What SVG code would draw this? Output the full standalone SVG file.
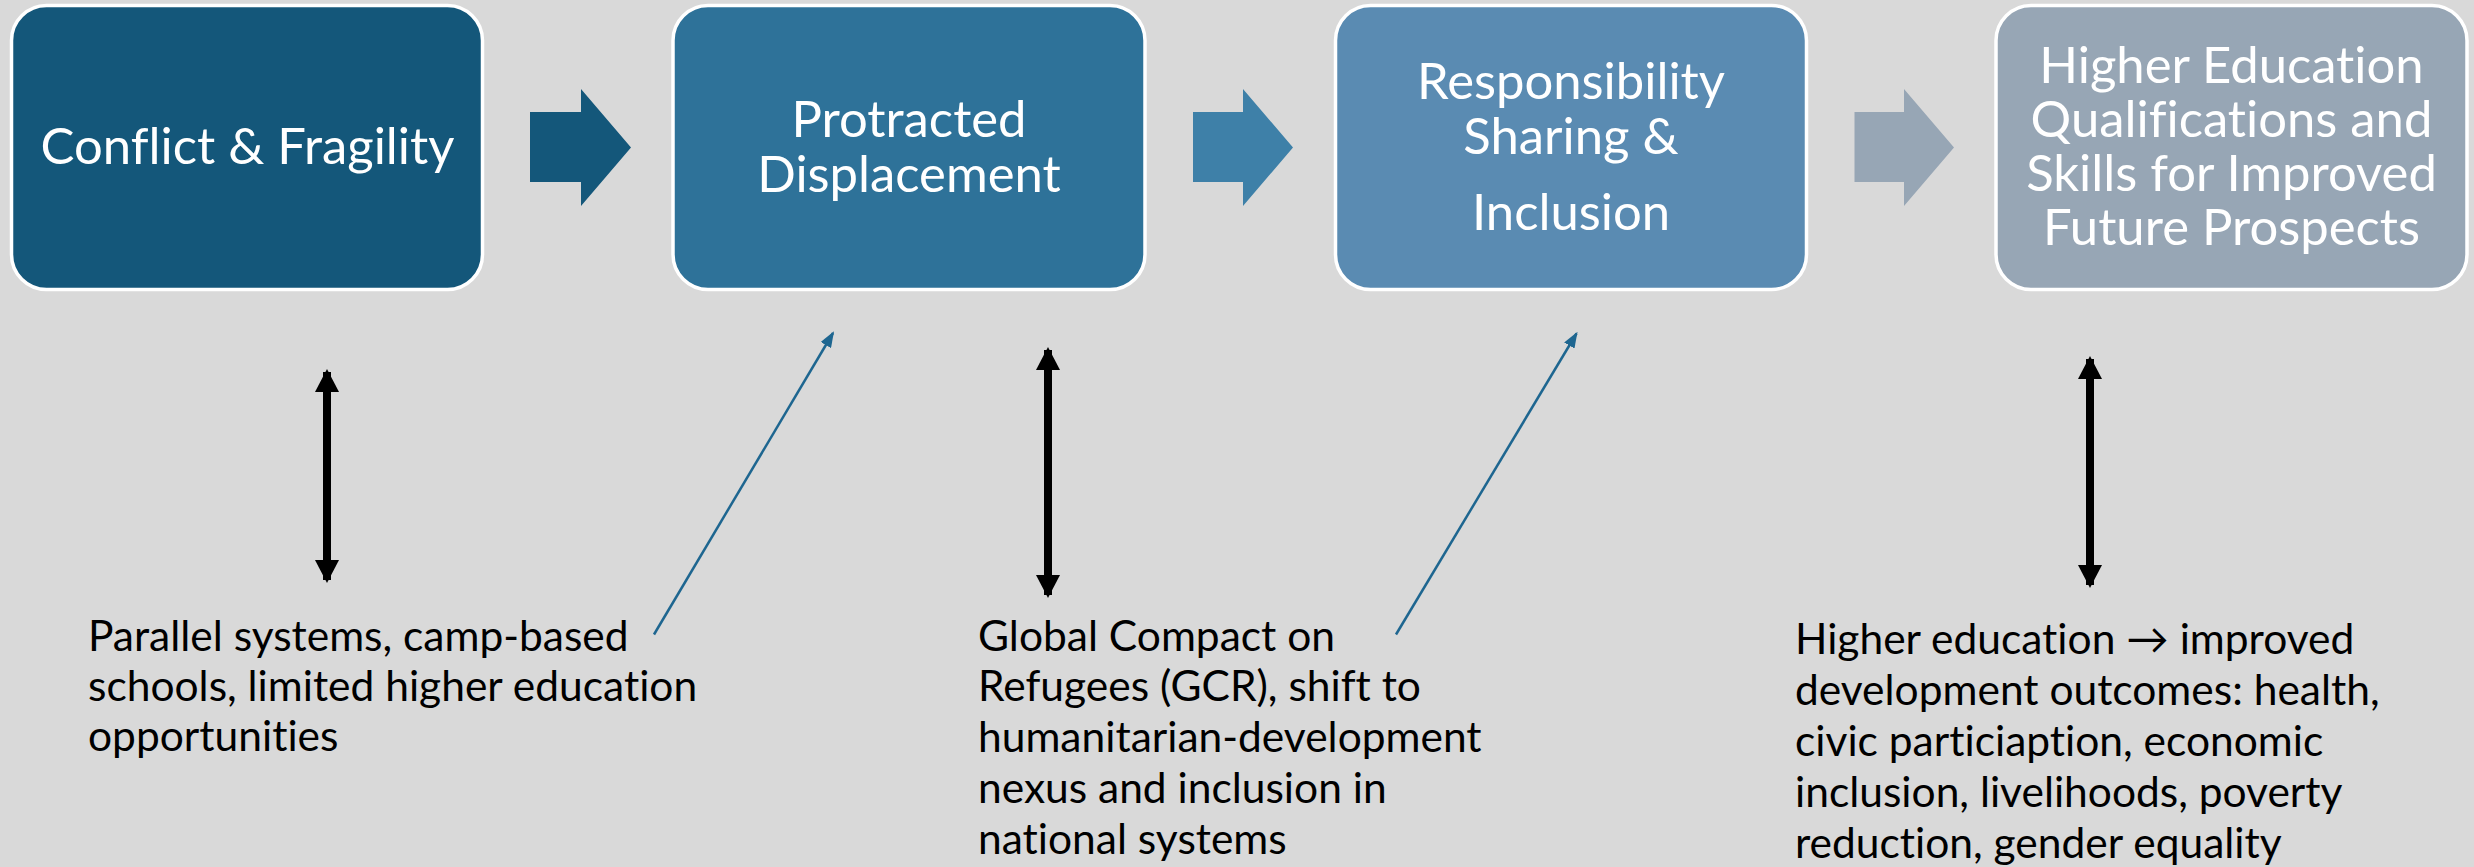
<svg xmlns="http://www.w3.org/2000/svg" width="2474" height="867" viewBox="0 0 2474 867">
<style>
.box{stroke:#FFFFFF;stroke-width:3.5}
.bt{font-family:Lato,"Open Sans","Liberation Sans",sans-serif;font-size:50.8px;fill:#FFFFFF;text-anchor:middle;font-variant-ligatures:none}
.lt{font-family:Lato,"Open Sans","Liberation Sans",sans-serif;font-size:42.5px;fill:#000000;font-variant-ligatures:none}
.dbl{stroke:#000000;stroke-width:8;fill:none}
.thin{stroke:#1E6690;stroke-width:2.5;fill:none}
</style>
<defs>
<marker id="blk" viewBox="0 0 23 24" refX="20" refY="12" markerWidth="23" markerHeight="24" markerUnits="userSpaceOnUse" orient="auto-start-reverse">
<path d="M0,0 L23,12 L0,24 Z" fill="#000000"/>
</marker>
<marker id="blu" viewBox="0 0 16 12" refX="14" refY="6" markerWidth="16" markerHeight="12" markerUnits="userSpaceOnUse" orient="auto">
<path d="M0,0 L16,6 L0,12 Z" fill="#1E6690"/>
</marker>
</defs>
<rect x="0" y="0" width="2474" height="867" fill="#D9D9D9"/>

<g id="node-conflict">
<rect class="box" x="11.5" y="5.5" width="471" height="284" rx="35" fill="#14577A"/>
<text class="bt" x="247.5" y="164">Conflict &amp; Fragility</text>
</g>
<g id="node-displacement">
<rect class="box" x="673" y="5.5" width="472" height="284" rx="35" fill="#2E7299"/>
<text class="bt" x="909" y="137">Protracted</text>
<text class="bt" x="909" y="192">Displacement</text>
</g>
<g id="node-responsibility">
<rect class="box" x="1335.5" y="5.5" width="471" height="284" rx="35" fill="#5A8BB2"/>
<text class="bt" x="1571" y="99">Responsibility</text>
<text class="bt" x="1571" y="154">Sharing &amp;</text>
<text class="bt" x="1571" y="230">Inclusion</text>
</g>
<g id="node-higher-ed">
<rect class="box" x="1996" y="5.5" width="471" height="284" rx="35" fill="#97A6B5"/>
<text class="bt" x="2231.5" y="83">Higher Education</text>
<text class="bt" x="2231.5" y="137">Qualifications and</text>
<text class="bt" x="2231.5" y="191">Skills for Improved</text>
<text class="bt" x="2231.5" y="245">Future Prospects</text>
</g>

<g id="note-parallel">
<text class="lt" x="88" y="650.7">Parallel systems, camp-based</text>
<text class="lt" x="88" y="701">schools, limited higher education</text>
<text class="lt" x="88" y="751">opportunities</text>
</g>
<g id="note-gcr">
<text class="lt" x="978" y="650.7">Global Compact on</text>
<text class="lt" x="978" y="701">Refugees (GCR), shift to</text>
<text class="lt" x="978" y="752">humanitarian-development</text>
<text class="lt" x="978" y="803">nexus and inclusion in</text>
<text class="lt" x="978" y="854">national systems</text>
</g>
<g id="note-outcomes">
<text class="lt" x="1795" y="654">Higher education → improved</text>
<text class="lt" x="1795" y="705">development outcomes: health,</text>
<text class="lt" x="1795" y="756">civic particiaption, economic</text>
<text class="lt" x="1795" y="807">inclusion, livelihoods, poverty</text>
<text class="lt" x="1795" y="858">reduction, gender equality</text>
</g>

<g id="connectors">
<path d="M530,112 H581 V89 L631,147.5 L581,206 V182 H530 Z" fill="#14577A"/>
<path d="M1193,112 H1243 V89 L1293,147.5 L1243,206 V182 H1193 Z" fill="#3E80A8"/>
<path d="M1854.5,112 H1904 V89 L1954,147.5 L1904,206 V182 H1854.5 Z" fill="#97A6B5"/>
<line class="dbl" x1="327" y1="372" x2="327" y2="580" marker-start="url(#blk)" marker-end="url(#blk)"/>
<line class="dbl" x1="1048" y1="350" x2="1048" y2="595" marker-start="url(#blk)" marker-end="url(#blk)"/>
<line class="dbl" x1="2090" y1="359" x2="2090" y2="585" marker-start="url(#blk)" marker-end="url(#blk)"/>
<line class="thin" x1="654" y1="634.5" x2="833" y2="333" marker-end="url(#blu)"/>
<line class="thin" x1="1396" y1="634.5" x2="1576.5" y2="333.5" marker-end="url(#blu)"/>
</g>
</svg>
